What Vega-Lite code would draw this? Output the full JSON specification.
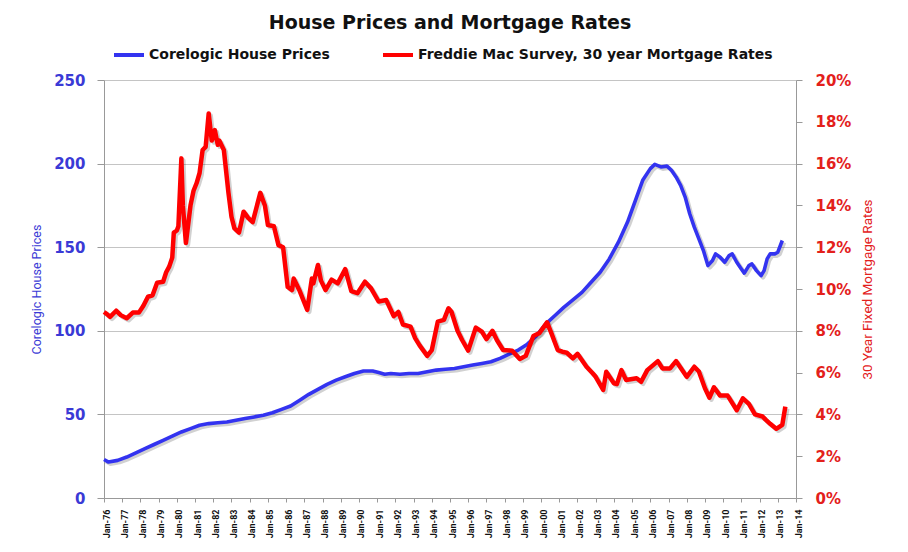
{
  "$schema": "https://vega.github.io/schema/vega-lite/v6.json",
  "width": 692,
  "height": 418,
  "autosize": {"type": "none"},
  "padding": {"left": 104, "top": 80, "right": 112, "bottom": 54},
  "background": "white",
  "title": {
    "text": "House Prices and Mortgage Rates",
    "font": "DejaVu Sans",
    "fontSize": 19,
    "fontWeight": "bold",
    "color": "#111111",
    "anchor": "middle",
    "frame": "group",
    "offset": 5
  },
  "config": {
    "view": {"stroke": null},
    "legend": {
      "orient": "none",
      "legendX": 8,
      "legendY": -42,
      "direction": "horizontal",
      "symbolType": "stroke",
      "symbolSize": 900,
      "symbolStrokeWidth": 4,
      "labelFont": "DejaVu Sans",
      "labelFontWeight": "bold",
      "labelFontSize": 14,
      "labelColor": "#111111",
      "labelOffset": 3,
      "columnPadding": 45,
      "labelLimit": 600
    }
  },
  "datasets": {
    "hp": [
      {"d": "1976-01-01", "v": 23}, {"d": "1976-04-01", "v": 21.5}, {"d": "1976-10-01", "v": 22.5},
      {"d": "1977-04-01", "v": 24.5}, {"d": "1977-10-01", "v": 27}, {"d": "1978-04-01", "v": 29.5},
      {"d": "1978-10-01", "v": 32}, {"d": "1979-04-01", "v": 34.5}, {"d": "1979-10-01", "v": 37},
      {"d": "1980-04-01", "v": 39.5}, {"d": "1980-10-01", "v": 41.5}, {"d": "1981-04-01", "v": 43.5},
      {"d": "1981-10-01", "v": 44.5}, {"d": "1982-04-01", "v": 45}, {"d": "1982-10-01", "v": 45.5},
      {"d": "1983-04-01", "v": 46.5}, {"d": "1983-10-01", "v": 47.5}, {"d": "1984-04-01", "v": 48.5},
      {"d": "1984-10-01", "v": 49.5}, {"d": "1985-04-01", "v": 51}, {"d": "1985-10-01", "v": 53},
      {"d": "1986-04-01", "v": 55}, {"d": "1986-10-01", "v": 58.5}, {"d": "1987-04-01", "v": 62},
      {"d": "1987-10-01", "v": 65}, {"d": "1988-04-01", "v": 68}, {"d": "1988-10-01", "v": 70.5},
      {"d": "1989-04-01", "v": 72.5}, {"d": "1989-10-01", "v": 74.5}, {"d": "1990-04-01", "v": 76},
      {"d": "1990-10-01", "v": 76}, {"d": "1991-02-01", "v": 75}, {"d": "1991-06-01", "v": 74},
      {"d": "1991-10-01", "v": 74.5}, {"d": "1992-04-01", "v": 74}, {"d": "1992-10-01", "v": 74.5},
      {"d": "1993-04-01", "v": 74.5}, {"d": "1993-10-01", "v": 75.5}, {"d": "1994-04-01", "v": 76.5},
      {"d": "1994-10-01", "v": 77}, {"d": "1995-04-01", "v": 77.5}, {"d": "1995-10-01", "v": 78.5},
      {"d": "1996-04-01", "v": 79.5}, {"d": "1996-10-01", "v": 80.5}, {"d": "1997-04-01", "v": 81.5},
      {"d": "1997-10-01", "v": 83.5}, {"d": "1998-04-01", "v": 86}, {"d": "1998-10-01", "v": 88.5},
      {"d": "1999-04-01", "v": 92}, {"d": "1999-10-01", "v": 97}, {"d": "2000-04-01", "v": 104},
      {"d": "2000-10-01", "v": 109}, {"d": "2001-04-01", "v": 114}, {"d": "2001-10-01", "v": 118.5},
      {"d": "2002-04-01", "v": 123}, {"d": "2002-10-01", "v": 129}, {"d": "2003-04-01", "v": 135},
      {"d": "2003-10-01", "v": 143}, {"d": "2004-04-01", "v": 153}, {"d": "2004-10-01", "v": 165},
      {"d": "2005-04-01", "v": 180}, {"d": "2005-08-01", "v": 190}, {"d": "2006-01-01", "v": 197},
      {"d": "2006-04-01", "v": 199.5}, {"d": "2006-08-01", "v": 198}, {"d": "2006-12-01", "v": 198.5},
      {"d": "2007-03-01", "v": 196}, {"d": "2007-06-01", "v": 192}, {"d": "2007-09-01", "v": 187},
      {"d": "2007-12-01", "v": 180}, {"d": "2008-03-01", "v": 170}, {"d": "2008-06-01", "v": 162},
      {"d": "2008-09-01", "v": 155}, {"d": "2008-12-01", "v": 148}, {"d": "2009-03-01", "v": 139},
      {"d": "2009-06-01", "v": 142}, {"d": "2009-08-01", "v": 146}, {"d": "2009-11-01", "v": 144},
      {"d": "2010-02-01", "v": 141}, {"d": "2010-05-01", "v": 145}, {"d": "2010-07-01", "v": 146},
      {"d": "2010-10-01", "v": 141}, {"d": "2011-01-01", "v": 137}, {"d": "2011-03-01", "v": 134.5},
      {"d": "2011-06-01", "v": 139}, {"d": "2011-08-01", "v": 140}, {"d": "2011-11-01", "v": 136},
      {"d": "2012-02-01", "v": 133}, {"d": "2012-04-01", "v": 136}, {"d": "2012-06-01", "v": 143},
      {"d": "2012-08-01", "v": 146}, {"d": "2012-11-01", "v": 146}, {"d": "2013-01-01", "v": 147},
      {"d": "2013-04-01", "v": 154}
    ],
    "mr": [
      {"d": "1976-01-01", "v": 8.9}, {"d": "1976-03-01", "v": 8.8}, {"d": "1976-05-01", "v": 8.67},
      {"d": "1976-09-01", "v": 8.96}, {"d": "1976-12-01", "v": 8.75}, {"d": "1977-04-01", "v": 8.6},
      {"d": "1977-08-01", "v": 8.87}, {"d": "1977-12-01", "v": 8.87}, {"d": "1978-03-01", "v": 9.2},
      {"d": "1978-06-01", "v": 9.63}, {"d": "1978-09-01", "v": 9.7}, {"d": "1978-12-01", "v": 10.3},
      {"d": "1979-04-01", "v": 10.35}, {"d": "1979-06-01", "v": 10.8}, {"d": "1979-08-01", "v": 11.07},
      {"d": "1979-10-01", "v": 11.5}, {"d": "1979-11-01", "v": 12.7}, {"d": "1980-01-01", "v": 12.8},
      {"d": "1980-02-01", "v": 13.0}, {"d": "1980-04-01", "v": 16.25}, {"d": "1980-05-01", "v": 14.0},
      {"d": "1980-07-01", "v": 12.2}, {"d": "1980-08-01", "v": 12.8}, {"d": "1980-10-01", "v": 14.0},
      {"d": "1980-12-01", "v": 14.7}, {"d": "1981-02-01", "v": 15.07}, {"d": "1981-04-01", "v": 15.55},
      {"d": "1981-06-01", "v": 16.65}, {"d": "1981-08-01", "v": 16.8}, {"d": "1981-10-01", "v": 18.4},
      {"d": "1981-12-01", "v": 17.1}, {"d": "1982-01-01", "v": 17.3}, {"d": "1982-02-01", "v": 17.6},
      {"d": "1982-04-01", "v": 16.9}, {"d": "1982-05-01", "v": 17.1}, {"d": "1982-08-01", "v": 16.65},
      {"d": "1982-11-01", "v": 14.6}, {"d": "1983-01-01", "v": 13.46}, {"d": "1983-03-01", "v": 12.9},
      {"d": "1983-06-01", "v": 12.7}, {"d": "1983-09-01", "v": 13.7}, {"d": "1983-12-01", "v": 13.4},
      {"d": "1984-03-01", "v": 13.2}, {"d": "1984-08-01", "v": 14.6}, {"d": "1984-11-01", "v": 14.0},
      {"d": "1985-01-01", "v": 13.06}, {"d": "1985-05-01", "v": 13.0}, {"d": "1985-08-01", "v": 12.1},
      {"d": "1985-11-01", "v": 12.0}, {"d": "1986-02-01", "v": 10.1}, {"d": "1986-05-01", "v": 9.95},
      {"d": "1986-06-01", "v": 10.5}, {"d": "1986-10-01", "v": 9.9}, {"d": "1987-03-01", "v": 9.0},
      {"d": "1987-06-01", "v": 10.5}, {"d": "1987-07-01", "v": 10.27}, {"d": "1987-10-01", "v": 11.15},
      {"d": "1987-12-01", "v": 10.4}, {"d": "1988-03-01", "v": 9.95}, {"d": "1988-07-01", "v": 10.45},
      {"d": "1988-11-01", "v": 10.27}, {"d": "1989-04-01", "v": 10.95}, {"d": "1989-08-01", "v": 9.9},
      {"d": "1989-12-01", "v": 9.8}, {"d": "1990-05-01", "v": 10.35}, {"d": "1990-09-01", "v": 10.03},
      {"d": "1991-02-01", "v": 9.4}, {"d": "1991-07-01", "v": 9.47}, {"d": "1991-12-01", "v": 8.7},
      {"d": "1992-03-01", "v": 8.9}, {"d": "1992-06-01", "v": 8.3}, {"d": "1992-11-01", "v": 8.2},
      {"d": "1993-02-01", "v": 7.65}, {"d": "1993-05-01", "v": 7.3}, {"d": "1993-10-01", "v": 6.8},
      {"d": "1994-01-01", "v": 7.08}, {"d": "1994-05-01", "v": 8.44}, {"d": "1994-09-01", "v": 8.52},
      {"d": "1994-12-01", "v": 9.08}, {"d": "1995-02-01", "v": 8.9}, {"d": "1995-06-01", "v": 8.0},
      {"d": "1995-09-01", "v": 7.56}, {"d": "1996-01-01", "v": 7.05}, {"d": "1996-06-01", "v": 8.15},
      {"d": "1996-10-01", "v": 7.96}, {"d": "1997-01-01", "v": 7.6}, {"d": "1997-05-01", "v": 8.0},
      {"d": "1997-08-01", "v": 7.55}, {"d": "1997-12-01", "v": 7.08}, {"d": "1998-06-01", "v": 7.05},
      {"d": "1998-11-01", "v": 6.65}, {"d": "1999-03-01", "v": 6.8}, {"d": "1999-08-01", "v": 7.75},
      {"d": "1999-12-01", "v": 7.9}, {"d": "2000-05-01", "v": 8.4}, {"d": "2000-08-01", "v": 7.85},
      {"d": "2000-12-01", "v": 7.08}, {"d": "2001-03-01", "v": 7.0}, {"d": "2001-06-01", "v": 6.95},
      {"d": "2001-10-01", "v": 6.68}, {"d": "2002-01-01", "v": 6.9}, {"d": "2002-07-01", "v": 6.28},
      {"d": "2002-11-01", "v": 5.97}, {"d": "2003-01-01", "v": 5.8}, {"d": "2003-06-01", "v": 5.17},
      {"d": "2003-08-01", "v": 6.04}, {"d": "2004-01-01", "v": 5.49}, {"d": "2004-03-01", "v": 5.45},
      {"d": "2004-06-01", "v": 6.12}, {"d": "2004-09-01", "v": 5.65}, {"d": "2005-04-01", "v": 5.73},
      {"d": "2005-07-01", "v": 5.56}, {"d": "2005-11-01", "v": 6.12}, {"d": "2006-06-01", "v": 6.55},
      {"d": "2006-09-01", "v": 6.2}, {"d": "2007-02-01", "v": 6.2}, {"d": "2007-06-01", "v": 6.55},
      {"d": "2008-01-01", "v": 5.8}, {"d": "2008-06-01", "v": 6.28}, {"d": "2008-09-01", "v": 6.05},
      {"d": "2009-01-01", "v": 5.25}, {"d": "2009-04-01", "v": 4.8}, {"d": "2009-07-01", "v": 5.3},
      {"d": "2009-11-01", "v": 4.9}, {"d": "2010-04-01", "v": 4.9}, {"d": "2010-10-01", "v": 4.2},
      {"d": "2011-02-01", "v": 4.77}, {"d": "2011-06-01", "v": 4.5}, {"d": "2011-10-01", "v": 4.0},
      {"d": "2012-03-01", "v": 3.9}, {"d": "2012-05-01", "v": 3.75}, {"d": "2012-08-01", "v": 3.55},
      {"d": "2012-12-01", "v": 3.31}, {"d": "2013-04-01", "v": 3.5}, {"d": "2013-06-01", "v": 4.37}
    ]
  },
  "layer": [
    {
      "data": {"name": "hp"},
      "encoding": {
        "x": {
          "field": "d",
          "type": "temporal",
          "scale": {"type": "utc", "domain": [{"year": 1976, "month": 1, "date": 1, "utc": true}, {"year": 2014, "month": 1, "date": 1, "utc": true}]},
          "axis": {
            "title": null,
            "format": "%b-%y",
            "labelAngle": 270,
            "tickCount": {"interval": "year", "step": 1},
            "labelFont": "Roboto",
            "labelFontWeight": "bold",
            "labelFontSize": 9,
            "labelColor": "#111111",
            "labelOffset": 2,
            "labelPadding": 7,
            "labelOverlap": false,
            "labelFlush": false,
            "labelBound": false,
            "tickColor": "#999999",
            "tickSize": 4,
            "domainColor": "#999999",
            "grid": false
          }
        },
        "y": {
          "field": "v",
          "type": "quantitative",
          "scale": {"domain": [0, 250], "nice": false},
          "axis": {
            "orient": "left",
            "values": [0, 50, 100, 150, 200, 250],
            "grid": true,
            "gridColor": "#c4c4c4",
            "gridWidth": 1,
            "domainColor": "#999999",
            "tickColor": "#999999",
            "tickSize": 7,
            "labelFont": "DejaVu Sans",
            "labelFontWeight": "bold",
            "labelFontSize": 15,
            "labelColor": "#3a3ad6",
            "labelPadding": 12,
            "title": "Corelogic House Prices",
            "titleFont": "Roboto",
            "titleFontWeight": "normal",
            "titleFontSize": 12.5,
            "titleColor": "#3a3ad6",
            "titlePadding": 10
          }
        }
      },
      "layer": [
        {
          "mark": {"type": "line", "color": "#000000", "opacity": 0.18, "strokeWidth": 4, "xOffset": 2, "yOffset": 2, "strokeJoin": "round"}
        },
        {
          "mark": {"type": "line", "strokeWidth": 3.6, "strokeJoin": "round"},
          "encoding": {
            "color": {
              "datum": "Corelogic House Prices",
              "scale": {"domain": ["Corelogic House Prices", "Freddie Mac Survey, 30 year Mortgage Rates"], "range": ["#3333f0", "#ff0000"]},
              "legend": {"title": null}
            }
          }
        }
      ]
    },
    {
      "data": {"name": "mr"},
      "encoding": {
        "x": {"field": "d", "type": "temporal"},
        "y": {
          "field": "v",
          "type": "quantitative",
          "scale": {"domain": [0, 20], "nice": false},
          "axis": {
            "orient": "right",
            "values": [0, 2, 4, 6, 8, 10, 12, 14, 16, 18, 20],
            "labelExpr": "datum.value + '%'",
            "grid": false,
            "domainColor": "#999999",
            "tickColor": "#999999",
            "tickSize": 6,
            "labelFont": "DejaVu Sans",
            "labelFontWeight": "bold",
            "labelFontSize": 15,
            "labelColor": "#e3201b",
            "labelPadding": 13,
            "title": "30 Year Fixed Mortgage Rates",
            "titleAngle": 270,
            "titleFont": "Roboto",
            "titleFontWeight": "normal",
            "titleFontSize": 13.5,
            "titleColor": "#e3201b",
            "titlePadding": 24
          }
        }
      },
      "layer": [
        {
          "mark": {"type": "line", "color": "#000000", "opacity": 0.18, "strokeWidth": 4.5, "xOffset": 2, "yOffset": 2, "strokeJoin": "round"}
        },
        {
          "mark": {"type": "line", "strokeWidth": 4.5, "strokeJoin": "round"},
          "encoding": {
            "color": {"datum": "Freddie Mac Survey, 30 year Mortgage Rates"}
          }
        }
      ]
    }
  ],
  "resolve": {"scale": {"y": "independent"}}
}
